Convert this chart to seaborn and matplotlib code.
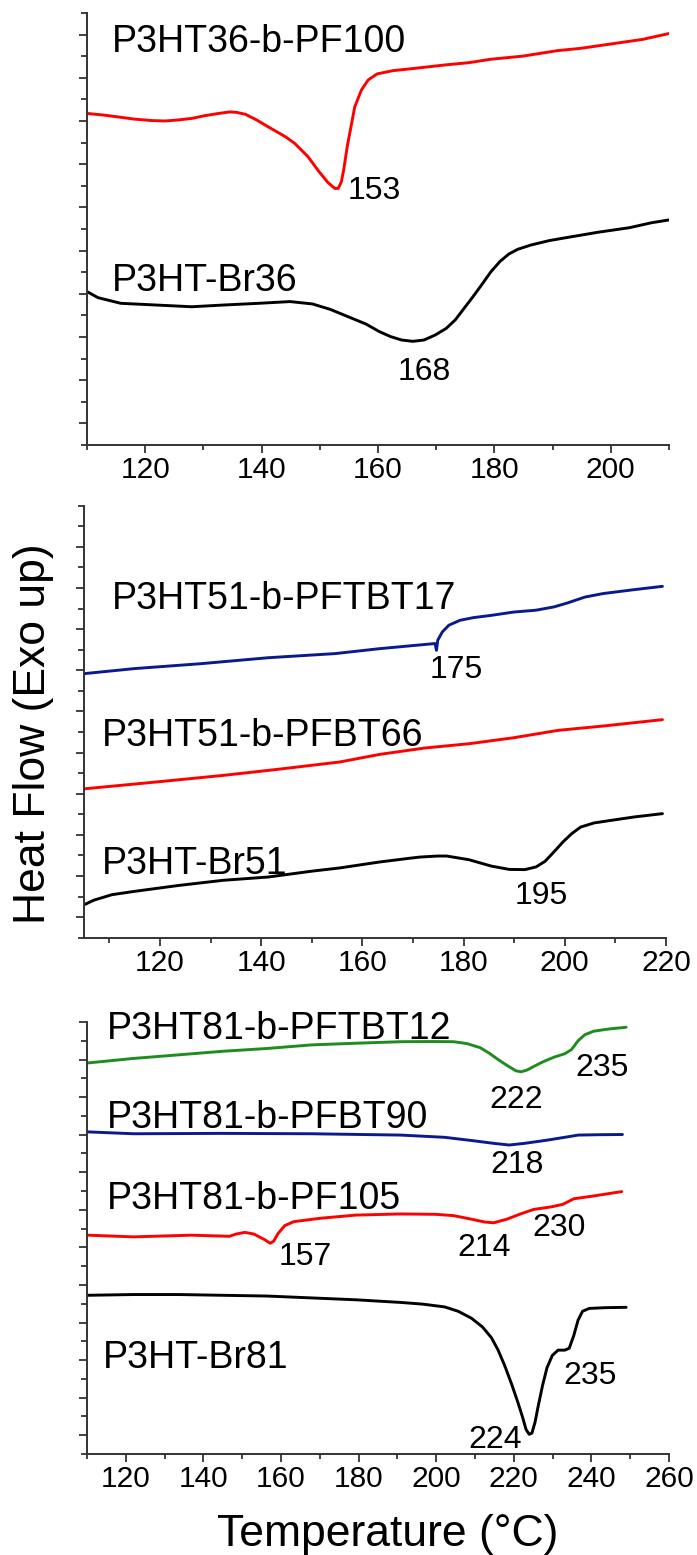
import matplotlib
matplotlib.use("Agg")
import matplotlib.pyplot as plt
import seaborn as sns
from matplotlib.ticker import FixedLocator

sns.set_style("ticks")
plt.rcParams['font.family'] = ['Liberation Sans', 'DejaVu Sans']
plt.rcParams['text.color'] = 'black'
plt.rcParams['lines.solid_joinstyle'] = 'round'
plt.rcParams['lines.solid_capstyle'] = 'round'

# ---------------- Panel 1 data ----------------
p1_red_x = [110, 112.68, 115, 118.05, 121.12, 123.42, 125.72, 128, 130.32, 132.62, 134.54, 135.69,
            137.22, 139.14, 141.06, 144.1, 145.66, 147.96, 149.88, 151.41, 152.56, 153.17,
            153.71, 154.1, 154.71, 155.25, 156.01, 157.16, 158.31, 159.85, 162.53, 166.4,
            171.7, 175.6, 179.4, 184.8, 190.9, 194.7, 200.9, 205.5, 210]
p1_red_y = [15.35, 15.28, 15.2, 15.09, 15.02, 15.0, 15.05, 15.12, 15.25, 15.35, 15.42, 15.4,
            15.31, 15.05, 14.74, 14.27, 13.97, 13.35, 12.65, 12.15, 11.88, 11.88,
            12.19, 12.73, 13.81, 14.58, 15.66, 16.44, 16.9, 17.18, 17.33, 17.44,
            17.6, 17.7, 17.86, 18.0, 18.26, 18.36, 18.6, 18.78, 19.05]
p1_blk_x = [110, 111.9, 115.8, 121.9, 128, 133.4, 139.5, 144.9, 148.73, 151.79, 154.86, 157.93,
            160.23, 162.15, 164.06, 165.98, 167.9, 169.82, 171.73, 173.27, 174.8, 176.33,
            177.87, 179.4, 180.93, 182.47, 184.0, 186.3, 189.37, 191.7, 197.8, 203.2, 207, 210]
p1_blk_y = [7.1, 6.82, 6.56, 6.48, 6.4, 6.48, 6.56, 6.64, 6.53, 6.28, 5.94, 5.6,
            5.25, 5.02, 4.86, 4.8, 4.86, 5.09, 5.4, 5.79, 6.33, 6.87,
            7.44, 8.02, 8.49, 8.84, 9.06, 9.26, 9.46, 9.57, 9.85, 10.06, 10.29, 10.42]

# ---------------- Panel 2 data ----------------
p2_blu_x = [105.2, 114.9, 128.1, 141.4, 154.6, 163.4, 174.37, 174.64, 174.9, 175.79, 177.1,
            179.3, 181.96, 185.5, 189.9, 194.3, 197.85, 200.5, 204.0, 207.6, 213.74, 219.3]
p2_blu_y = [12.84, 13.08, 13.32, 13.61, 13.81, 14.05, 14.3, 13.97, 14.46, 14.86, 15.19,
            15.43, 15.56, 15.67, 15.83, 15.92, 16.08, 16.27, 16.56, 16.73, 16.92, 17.08]
p2_red_x = [105.2, 119.3, 132.5, 143.1, 155.5, 163.4, 172.3, 181.1, 189.9, 198.7, 207.6, 219.3]
p2_red_y = [7.24, 7.57, 7.89, 8.18, 8.54, 8.91, 9.22, 9.43, 9.72, 10.08, 10.29, 10.6]
p2_blk_x = [105.2, 106.9, 110.5, 114.9, 123.7, 132.5, 141.4, 150.2, 155.5, 163.4, 169.6, 171.4,
            174.9, 176.67, 181.08, 185.49, 189.02, 192.11, 194.32, 196.09, 197.85, 199.62,
            201.38, 203.15, 205.79, 209.33, 213.74, 219.3]
p2_blk_y = [1.62, 1.82, 2.09, 2.25, 2.54, 2.79, 2.95, 3.24, 3.39, 3.68, 3.87, 3.92,
            3.97, 3.97, 3.79, 3.48, 3.32, 3.31, 3.44, 3.71, 4.17, 4.65,
            5.06, 5.38, 5.58, 5.71, 5.87, 6.03]

# ---------------- Panel 3 data ----------------
p3_grn_x = [110.2, 122, 133.5, 144.9, 156.4, 167.8, 179.3, 190.8, 198.8, 204.5, 207.94, 211.37,
            213.67, 215.96, 218.25, 220.54, 221.91, 223.4, 225.12, 227.41, 230.27, 233.14,
            234.86, 236.57, 238.29, 240.58, 244.59, 248.95]
p3_grn_y = [20.82, 21.06, 21.25, 21.44, 21.59, 21.78, 21.87, 21.95, 21.96, 21.95, 21.85, 21.63,
            21.34, 21.0, 20.69, 20.4, 20.35, 20.44, 20.63, 20.87, 21.12, 21.31,
            21.53, 22.0, 22.32, 22.51, 22.63, 22.72]
p3_blu_x = [110.2, 122, 144.9, 167.8, 190.8, 202.2, 209.1, 214.8, 218.8, 222.8, 228.6, 233.1,
            236.6, 242.3, 248]
p3_blu_y = [17.15, 17.05, 17.07, 17.05, 16.98, 16.86, 16.69, 16.54, 16.45, 16.54, 16.71, 16.86,
            16.98, 17.0, 17.01]
p3_red_x = [110.2, 122, 136.9, 146.7, 148.4, 150.7, 153, 155.8, 157.2, 158.1, 159.25, 160.97,
            163.3, 170.1, 179.3, 190.8, 199.9, 204.5, 209.1, 212.5, 214.8, 218.2, 221.7,
            225.1, 229.7, 232.6, 235.5, 240, 247.8]
p3_red_y = [11.65, 11.56, 11.65, 11.59, 11.71, 11.8, 11.71, 11.41, 11.22, 11.33, 11.74, 12.16,
            12.37, 12.55, 12.72, 12.78, 12.76, 12.69, 12.5, 12.35, 12.31, 12.5, 12.78,
            13.02, 13.16, 13.29, 13.59, 13.72, 13.97]
p3_blk_x = [110.2, 122, 133.5, 156.4, 179.3, 190.8, 196.5, 202.21, 205.65, 209.08, 211.95,
            214.24, 215.96, 217.68, 219.39, 221.11, 222.26, 223.17, 223.97, 224.66, 225.46,
            226.26, 227.41, 228.55, 229.93, 231.42, 233.14, 234.28, 235.43, 236.57, 237.72,
            239.44, 243.45, 248.95]
p3_blk_y = [8.45, 8.49, 8.49, 8.41, 8.21, 8.07, 7.98, 7.83, 7.6, 7.23, 6.76,
            6.19, 5.53, 4.69, 3.75, 2.71, 1.96, 1.3, 1.05, 1.11, 1.68,
            2.52, 3.65, 4.59, 5.25, 5.53, 5.53, 5.63, 6.29, 7.13, 7.6,
            7.75, 7.79, 7.81]

# labels: (text, x, y, size)
p1_labels = [("P3HT36-b-PF100", 114.2, 18.2, 27), ("153", 154.7, 11.37, 23),
             ("P3HT-Br36", 114.2, 7.13, 27), ("168", 163.3, 3.0, 23)]
p2_labels = [("P3HT51-b-PFTBT17", 110.5, 16.0, 27), ("175", 173.3, 12.64, 23),
             ("P3HT51-b-PFBT66", 108.5, 9.32, 27), ("P3HT-Br51", 108.5, 3.08, 27),
             ("195", 190.1, 1.62, 23)]
p3_labels = [("P3HT81-b-PFTBT12", 115.2, 22.1, 27), ("222", 213.7, 18.43, 23),
             ("235", 235.8, 20.12, 23), ("P3HT81-b-PFBT90", 115.2, 17.35, 27),
             ("218", 214.0, 14.94, 23), ("P3HT81-b-PF105", 115.2, 13.06, 27),
             ("157", 159.3, 10.05, 23), ("214", 205.4, 10.56, 23), ("230", 224.8, 11.61, 23),
             ("P3HT-Br81", 114.2, 4.59, 27), ("235", 232.9, 3.71, 23), ("224", 208.2, 0.3, 23)]

RED = "#ff0000"
BLUE = "#0a1a8a"
GREEN = "#1e8c1e"
BLACK = "#000000"

W, H = 697, 1555
fig = plt.figure(figsize=(W / 100, H / 100), dpi=100)


def make_ax(left, top, right, bottom):
    return fig.add_axes([left / W, 1 - bottom / H, (right - left) / W, (bottom - top) / H])


panels = [
    dict(box=(87, 13, 669, 445), xlim=(110, 210), xticks=[120, 140, 160, 180, 200],
         xminor=[110, 130, 150, 170, 190, 210], ylim=(0, 20),
         series=[(p1_red_x, p1_red_y, RED), (p1_blk_x, p1_blk_y, BLACK)], labels=p1_labels),
    dict(box=(84, 505.7, 666, 937.7), xlim=(105, 220), xticks=[120, 140, 160, 180, 200, 220],
         xminor=[110, 130, 150, 170, 190, 210], ylim=(0, 21),
         series=[(p2_blu_x, p2_blu_y, BLUE), (p2_red_x, p2_red_y, RED), (p2_blk_x, p2_blk_y, BLACK)],
         labels=p2_labels),
    dict(box=(87, 1022, 669, 1454), xlim=(110, 260), xticks=[120, 140, 160, 180, 200, 220, 240, 260],
         xminor=[110, 130, 150, 170, 190, 210, 230, 250], ylim=(0, 23),
         series=[(p3_grn_x, p3_grn_y, GREEN), (p3_blu_x, p3_blu_y, BLUE),
                 (p3_red_x, p3_red_y, RED), (p3_blk_x, p3_blk_y, BLACK)],
         labels=p3_labels),
]

for p in panels:
    ax = make_ax(*p["box"])
    for xs, ys, c in p["series"]:
        sns.lineplot(x=xs, y=ys, ax=ax, color=c, linewidth=2.1, sort=False)
    ax.set_xlim(*p["xlim"])
    ax.set_ylim(*p["ylim"])
    ymax = p["ylim"][1]
    if ymax == 23:
        ymaj = list(range(1, 24, 2))
        ymin = list(range(0, 23, 2))
    else:
        ymaj = list(range(1, 20, 2))
        ymin = [v for v in range(0, ymax + 1) if v not in ymaj]
    ax.yaxis.set_major_locator(FixedLocator(ymaj))
    ax.yaxis.set_minor_locator(FixedLocator(ymin))
    ax.set_yticklabels([])
    ax.xaxis.set_major_locator(FixedLocator(p["xticks"]))
    ax.xaxis.set_minor_locator(FixedLocator(p["xminor"]))
    ax.set_xticklabels([str(v) for v in p["xticks"]])
    for side in ("top", "right"):
        ax.spines[side].set_visible(False)
    for side in ("left", "bottom"):
        ax.spines[side].set_color("#333333")
        ax.spines[side].set_linewidth(1.4)
    ax.tick_params(axis="x", which="major", length=6, width=1.3, color="#333333",
                   labelsize=21.5, pad=2, labelcolor="black")
    ax.tick_params(axis="x", which="minor", length=3.8, width=1.3, color="#333333")
    ax.tick_params(axis="y", which="major", length=5.5, width=1.3, color="#333333")
    ax.tick_params(axis="y", which="minor", length=4.0, width=1.3, color="#333333")
    ax.set_xlabel("")
    ax.set_ylabel("")
    ax.patch.set_alpha(0)
    for txt, x, y, s in p["labels"]:
        ax.text(x, y, txt, fontsize=s, ha="left", va="baseline", color="black")

fig.text(34 / W, 1 - 734 / H, "Heat Flow (Exo up)", rotation=90, fontsize=32,
         ha="center", va="center", color="black")
fig.text(388 / W, 1 - 1546 / H, "Temperature (°C)", fontsize=32, ha="center", va="baseline",
         color="black")

fig.savefig("out.png", dpi=100)
